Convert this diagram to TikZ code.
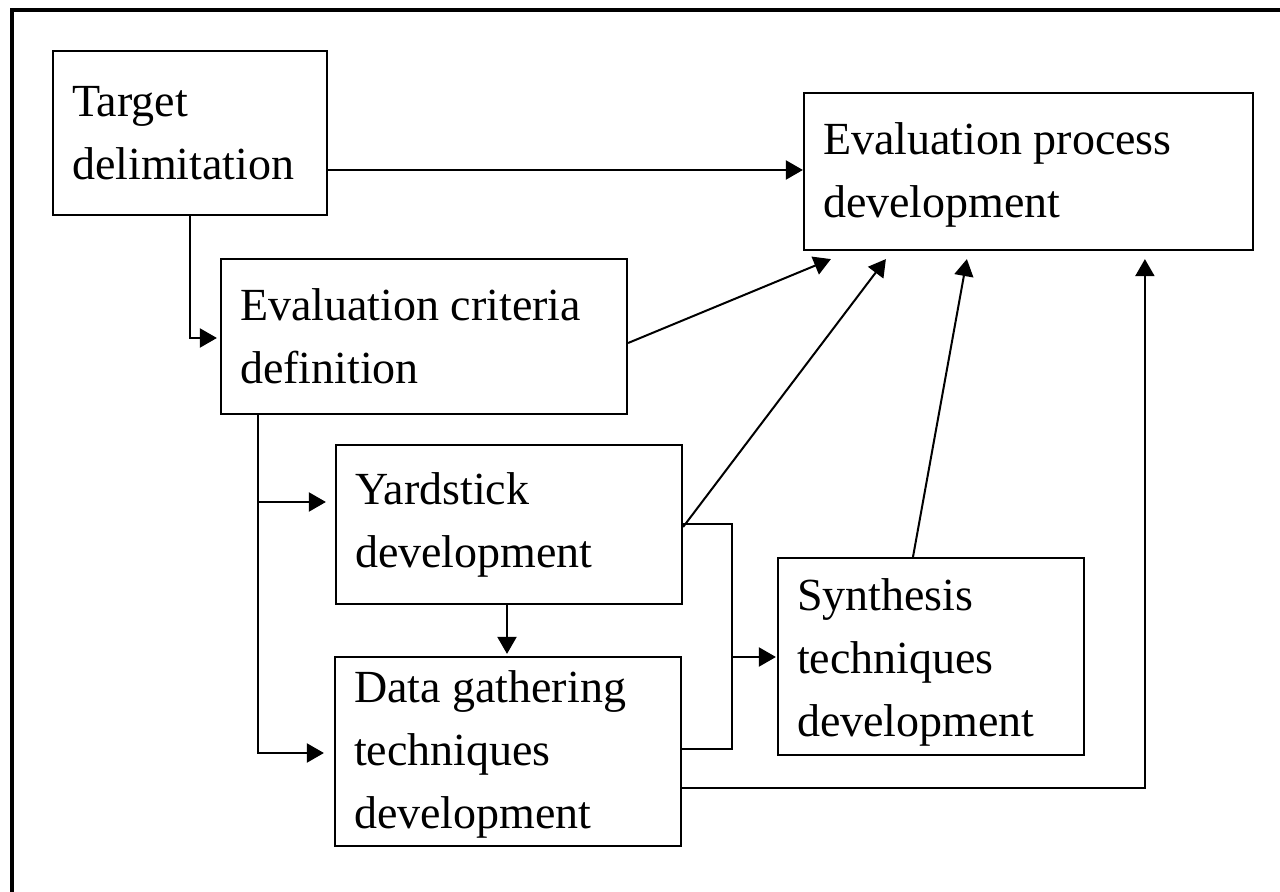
\documentclass[tikz,border=0pt]{standalone}
\usepackage{fontspec}
\setmainfont{Liberation Serif}
\usetikzlibrary{arrows.meta,calc}
\begin{document}
\begin{tikzpicture}[x=0.5pt,y=-0.5pt,
  box/.style={draw, line width=1.1pt, rectangle, align=flush left, inner xsep=9.5pt, inner ysep=0pt,
    font=\fontsize{23}{31.5}\selectfont},
  link/.style={line width=1pt},
  arr/.style={link, -{Triangle[length=8.5pt,width=9.5pt]}}]
\useasboundingbox (0,0) rectangle (1280,892);
\clip (0,0) rectangle (1280,892);
% outer frame
\draw[line width=2.4pt] (12,10) rectangle (1320,940);

% boxes
\node[box, minimum width=137pt, minimum height=82pt, text width=118pt] (tgt) at (190,133) {Target\\delimitation};
\node[box, minimum width=224.5pt, minimum height=78.5pt, text width=205.5pt] (evp) at (1028.5,171.5) {\rule{0pt}{19pt}Evaluation process\\development};
\node[box, minimum width=203pt, minimum height=77.5pt, text width=184pt] (evc) at (424,336.5) {Evaluation criteria\\definition};
\node[box, minimum width=173pt, minimum height=79.5pt, text width=154pt] (yard) at (509,524.5) {Yardstick\\development};
\node[box, minimum width=173pt, minimum height=94.5pt, text width=154pt] (data) at (508,751.5) {\rule{0pt}{19pt}Data gathering\\techniques\\development};
\node[box, minimum width=153pt, minimum height=98.5pt, text width=134pt] (syn) at (931,656.5) {\rule{0pt}{22pt}Synthesis\\techniques\\development};

% arrow ends just below the process box
\coordinate (inA) at ($(evp.south west)+(28,8)$);
\coordinate (inB) at ($(evp.south west)+(83,8)$);
\coordinate (inC) at ($(evp.south west)+(164,8)$);
\coordinate (inD) at ($(evp.south west)+(342,8)$);

% junctions
\coordinate (jc) at (258,502);
\coordinate (jb) at (732,657);

% connectors
\draw[arr] (tgt.east |- 0,170) -- (evp.west |- 0,170);
\draw[arr, shorten >=1.5pt] (tgt.south) |- (evc.west |- 0,338);
\draw[arr] (evc.east |- 0,343) -- (inA);
\draw[arr] (yard.east |- 0,527) -- (inB);
\draw[arr] (syn.north -| 913,0) -- (inC);
\draw[arr] (data.east |- 0,788) -| (inD);

\draw[arr, shorten >=5pt] (evc.south -| 258,0) |- (data.west |- 0,753);
\draw[arr, shorten >=4.5pt] (jc) -- (yard.west |- jc);
\draw[arr, shorten >=1pt] (yard.south -| 507,0) -- (data.north -| 507,0);

\draw[link] (yard.east |- 0,524) -| (732,749) -- (data.east |- 0,749);
\draw[arr, shorten >=0.5pt] (jb) -- (syn.west |- jb);
\end{tikzpicture}
\end{document}
